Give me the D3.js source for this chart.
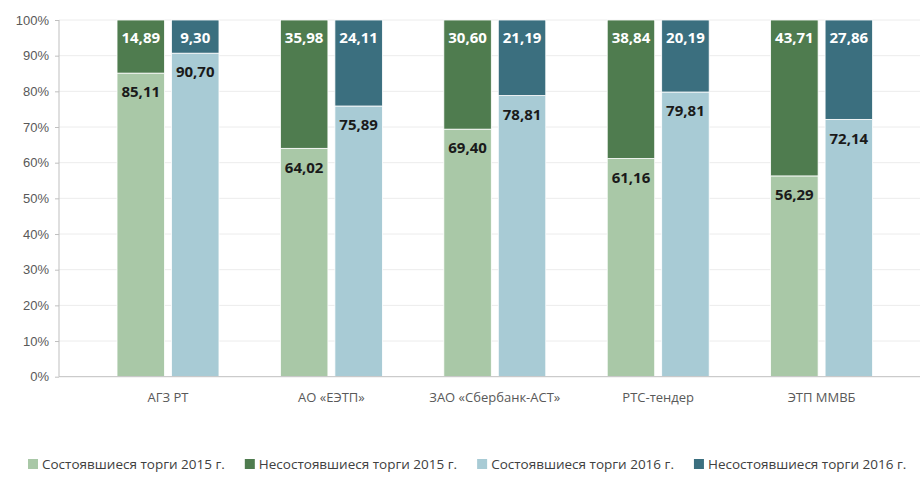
<!DOCTYPE html>
<html>
<head>
<meta charset="utf-8">
<script src="https://cdn.jsdelivr.net/npm/d3@7"></script>
<style>
  body { margin: 0; background: #fff; }
  svg { display: block; font-family: "Open Sans", sans-serif; }
  .axis text { fill: #595959; font-size: 13px; }
  .axis path, .axis line { stroke: #bfbfbf; }
</style>
</head>
<body>
<svg id="chart" width="920" height="478"></svg>
<script>
// Доля состоявшихся / несостоявшихся торгов по площадкам, %
const categories = ["АГЗ РТ", "АО «ЕЭТП»", "ЗАО «Сбербанк-АСТ»", "РТС-тендер", "ЭТП ММВБ"];
const done2015 = [85.11, 64.02, 69.40, 61.16, 56.29];
const failed2015 = [14.89, 35.98, 30.60, 38.84, 43.71];
const done2016 = [90.70, 75.89, 78.81, 79.81, 72.14];
const failed2016 = [9.30, 24.11, 21.19, 20.19, 27.86];
const years = ["2015", "2016"];
const yTicks = [0, 10, 20, 30, 40, 50, 60, 70, 80, 90, 100];

const legendItems = [
  { label: "Состоявшиеся торги 2015 г.", color: "#a9c8a7" },
  { label: "Несостоявшиеся торги 2015 г.", color: "#4f7c4f" },
  { label: "Состоявшиеся торги 2016 г.", color: "#a8cbd5" },
  { label: "Несостоявшиеся торги 2016 г.", color: "#3b6f7f" }
];

const svg = d3.select("#chart");
const fmt = v => v.toFixed(2).replace(".", ",");

const x0 = d3.scaleBand().domain(categories).range([86.3, 903.3]).paddingInner(0.376).paddingOuter(0.188);
const x1 = d3.scaleBand().domain(years).range([0, x0.bandwidth()]).paddingInner(0.128);
const y = d3.scaleLinear().domain([0, 100]).range([376.7, 20]);

// grid
svg.append("g").selectAll("line").data(yTicks.slice(1)).join("line")
  .attr("x1", 59).attr("x2", 920)
  .attr("y1", d => y(d)).attr("y2", d => y(d))
  .attr("stroke", "#ececec");

// bars
const rows = categories.map((c, i) => ({
  cat: c,
  parts: [
    { year: "2015", done: done2015[i], failed: failed2015[i], cDone: legendItems[0].color, cFail: legendItems[1].color },
    { year: "2016", done: done2016[i], failed: failed2016[i], cDone: legendItems[2].color, cFail: legendItems[3].color }
  ]
}));

const groups = svg.append("g").selectAll("g").data(rows).join("g")
  .attr("transform", d => `translate(${x0(d.cat)},0)`);

const bars = groups.selectAll("g").data(d => d.parts).join("g")
  .attr("transform", d => `translate(${x1(d.year)},0)`);

bars.append("rect")
  .attr("y", d => y(d.done)).attr("height", d => y(0) - y(d.done))
  .attr("width", x1.bandwidth()).attr("fill", d => d.cDone)
  .attr("stroke", "#fff").attr("stroke-width", 0.8);

bars.append("rect")
  .attr("y", y(100)).attr("height", d => y(d.done) - y(100))
  .attr("width", x1.bandwidth()).attr("fill", d => d.cFail)
  .attr("stroke", "#fff").attr("stroke-width", 0.8);

bars.append("text")
  .attr("x", x1.bandwidth() / 2).attr("y", y(100) + 18)
  .attr("dy", "0.35em").attr("text-anchor", "middle")
  .attr("fill", "#fff").attr("font-weight", "bold").attr("font-size", "15px")
  .text(d => fmt(d.failed));

bars.append("text")
  .attr("x", x1.bandwidth() / 2).attr("y", d => y(d.done) + 19)
  .attr("dy", "0.35em").attr("text-anchor", "middle")
  .attr("fill", "#1a1a1a").attr("font-weight", "bold").attr("font-size", "15px")
  .text(d => fmt(d.done));

// axes
svg.append("g").attr("class", "axis")
  .attr("transform", "translate(59,0)")
  .call(d3.axisLeft(y).tickValues(yTicks).tickSize(4).tickPadding(6).tickFormat(d => d + "%"))
  .call(g => g.select(".domain").attr("d", `M0,${y(100)}V${y(0)}`));

const xAxis = svg.append("g").attr("class", "axis")
  .attr("transform", `translate(0,${y(0)})`);
xAxis.append("line").attr("x1", 59).attr("x2", 920).attr("stroke", "#bfbfbf");
xAxis.selectAll("text").data(categories).join("text")
  .attr("x", d => x0(d) + x0.bandwidth() / 2).attr("y", 21)
  .attr("dy", "0.35em").attr("text-anchor", "middle")
  .attr("fill", "#404040").attr("font-size", "14px")
  .text(d => d);

// legend
const legend = svg.append("g").attr("transform", "translate(28,464)");
let lx = 0;
legendItems.forEach(item => {
  const g = legend.append("g").attr("transform", `translate(${lx},0)`);
  g.append("rect").attr("x", 0).attr("y", -5).attr("width", 10).attr("height", 10).attr("fill", item.color);
  const t = g.append("text").attr("x", 14).attr("dy", "0.35em")
    .attr("fill", "#404040").attr("font-size", "13.5px").text(item.label);
  lx += 14 + t.node().getComputedTextLength() + 20;
});
</script>
</body>
</html>
